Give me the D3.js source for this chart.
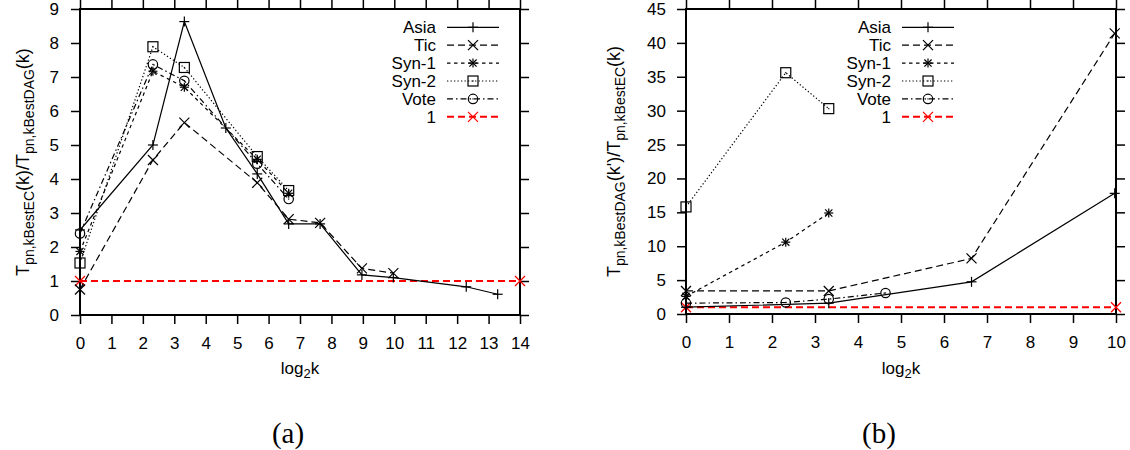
<!DOCTYPE html>
<html>
<head>
<meta charset="utf-8">
<script src="https://cdn.jsdelivr.net/npm/d3@7"></script>
<style>
body { margin: 0; background: #fff; }
svg text { font-family: "Liberation Sans", Arial, sans-serif; fill: #000; }
</style>
</head>
<body>
<svg width="1130" height="450"></svg>
<script>
// ---- panel (a) data, x = log2 k ----
let asiaAx = [0, 2.32, 3.32, 4.64, 5.64, 6.64, 7.64, 8.97, 9.97, 12.29, 13.29]
let asiaAy = [2.5, 5.0, 8.63, 5.5, 4.15, 2.68, 2.68, 1.18, 1.1, 0.83, 0.61]
let ticAx = [0, 2.32, 3.32, 5.64, 6.64, 7.64, 8.97, 9.97]
let ticAy = [0.75, 4.56, 5.66, 3.89, 2.82, 2.71, 1.37, 1.23]
let synAx = [0, 2.32, 3.32, 5.64, 6.64]
let syn1Ay = [1.87, 7.17, 6.7, 4.58, 3.58]
let syn2Ay = [1.53, 7.89, 7.28, 4.66, 3.66]
let voteAy = [2.4, 7.37, 6.89, 4.45, 3.41]
let oneAx = [0, 14]
let oneAy = [1, 1]

// ---- panel (b) data ----
let asiaBx = [0, 3.32, 6.64, 9.97]
let asiaBy = [1.0, 1.6, 4.75, 17.8]
let ticBx = [0, 3.32, 6.64, 9.97]
let ticBy = [3.4, 3.4, 8.2, 41.4]
let synBx = [0, 2.32, 3.32]
let syn1By = [2.6, 10.6, 14.9]
let syn2By = [15.8, 35.6, 30.3]
let voteBx = [0, 2.32, 3.32, 4.64]
let voteBy = [1.6, 1.7, 2.2, 3.1]
let oneBx = [0, 10]
let oneBy = [1, 1]

// ticks
let xTicksA = d3.range(0, 15)
let yTicksA = d3.range(0, 10)
let xTicksB = d3.range(0, 11)
let yTicksB = [0, 5, 10, 15, 20, 25, 30, 35, 40, 45]

let legendNames = ['Asia', 'Tic', 'Syn-1', 'Syn-2', 'Vote', '1']

// line style per series name
const styles = {
  'Asia':  {dash: null, mark: 'plus', color: '#000', width: 1.2},
  'Tic':   {dash: '7,4', mark: 'cross', color: '#000', width: 1.2},
  'Syn-1': {dash: '3.5,3.5', mark: 'star', color: '#000', width: 1.2},
  'Syn-2': {dash: '1.3,2.2', mark: 'square', color: '#000', width: 1.2},
  'Vote':  {dash: '6,3,1.5,3', mark: 'circle', color: '#000', width: 1.2},
  '1':     {dash: '7,4', mark: 'cross', color: '#ff0000', width: 2}
}

let svg = d3.select('svg')

function zip(xs, ys) { return xs.map((v, i) => [v, ys[i]]) }

function marker(g, type, px, py, color) {
  let m = g.append('g').attr('transform', 'translate(' + px + ',' + py + ')')
    .attr('stroke', color).attr('stroke-width', 1.2).attr('fill', 'none')
  let s = 5
  if (type == 'plus' || type == 'star') {
    let r = type == 'star' ? 4.5 : s
    m.append('line').attr('x1', -r).attr('x2', r).attr('y1', 0).attr('y2', 0)
    m.append('line').attr('x1', 0).attr('x2', 0).attr('y1', -r).attr('y2', r)
  }
  if (type == 'cross' || type == 'star') {
    let r = type == 'star' ? 3.6 : s
    m.append('line').attr('x1', -r).attr('x2', r).attr('y1', -r).attr('y2', r)
    m.append('line').attr('x1', -r).attr('x2', r).attr('y1', r).attr('y2', -r)
  }
  if (type == 'square') {
    m.append('rect').attr('x', -s).attr('y', -s).attr('width', 2 * s).attr('height', 2 * s)
    m.append('rect').attr('x', -0.6).attr('y', -0.6).attr('width', 1.2).attr('height', 1.2)
      .attr('fill', color).attr('stroke', 'none')
  }
  if (type == 'circle') {
    m.append('circle').attr('r', 4.7)
    m.append('rect').attr('x', -0.6).attr('y', -0.6).attr('width', 1.2).attr('height', 1.2)
      .attr('fill', color).attr('stroke', 'none')
  }
}

function drawPanel(p) {
  let x = d3.scaleLinear().domain(p.xDomain).range(p.xRange)
  let y = d3.scaleLinear().domain(p.yDomain).range(p.yRange)
  let g = svg.append('g')

  // axes, ticks pointing outward on all four sides
  let fs = '17px'
  g.append('g').attr('transform', 'translate(0,' + p.yRange[0] + ')')
    .call(d3.axisBottom(x).tickValues(p.xTicks).tickSize(9).tickPadding(13).tickSizeOuter(0))
  g.append('g').attr('transform', 'translate(0,' + p.yRange[1] + ')')
    .call(d3.axisTop(x).tickValues(p.xTicks).tickSize(9).tickFormat('').tickSizeOuter(0))
  g.append('g').attr('transform', 'translate(' + p.xRange[0] + ',0)')
    .call(d3.axisLeft(y).tickValues(p.yTicks).tickSize(9).tickPadding(p.yPad).tickSizeOuter(0))
  g.append('g').attr('transform', 'translate(' + p.xRange[1] + ',0)')
    .call(d3.axisRight(y).tickValues(p.yTicks).tickSize(9).tickFormat('').tickSizeOuter(0))
  g.selectAll('.domain').remove()
  g.selectAll('.tick line').attr('stroke', '#000').attr('stroke-width', 1.5)
  g.selectAll('.tick text').attr('font-size', fs)

  g.append('rect')
    .attr('x', p.xRange[0]).attr('y', p.yRange[1])
    .attr('width', p.xRange[1] - p.xRange[0]).attr('height', p.yRange[0] - p.yRange[1])
    .attr('fill', 'none').attr('stroke', '#000').attr('stroke-width', 2)

  let line = d3.line().x(d => x(d[0])).y(d => y(d[1]))

  // draw from back to front
  p.series.slice().reverse().forEach(s => {
    let st = styles[s.name]
    g.append('path')
      .datum(zip(s.x, s.y))
      .attr('d', line)
      .attr('fill', 'none')
      .attr('stroke', st.color)
      .attr('stroke-width', st.width)
      .attr('stroke-dasharray', st.dash)
    s.x.forEach((v, i) => marker(g, st.mark, x(v), y(s.y[i]), st.color))
  })

  // legend
  let lg = g.append('g')
  legendNames.forEach((name, i) => {
    let st = styles[name]
    let ly = 27.3 + i * 17.9
    lg.append('text').attr('x', p.legX).attr('y', ly).attr('dy', '0.35em')
      .attr('text-anchor', 'end').attr('font-size', fs).text(name)
    lg.append('line').attr('x1', p.legX + 11).attr('x2', p.legX + 63)
      .attr('y1', ly).attr('y2', ly)
      .attr('stroke', st.color).attr('stroke-width', st.width)
      .attr('stroke-dasharray', st.dash)
    marker(lg, st.mark, p.legX + 37, ly, st.color)
  })

  // x label: log2k
  let xl = g.append('text')
    .attr('x', (p.xRange[0] + p.xRange[1]) / 2).attr('y', 374)
    .attr('text-anchor', 'middle').attr('font-size', fs)
  xl.append('tspan').text('log')
  xl.append('tspan').attr('font-size', '13px').attr('dy', 4).text('2')
  xl.append('tspan').attr('dy', -4).text('k')

  // y label with subscripts
  let yl = g.append('text')
    .attr('transform', 'translate(' + p.yLabX + ',' + (p.yRange[0] + p.yRange[1]) / 2 + ') rotate(-90)')
    .attr('text-anchor', 'middle').attr('font-size', '18px')
  p.yLabel.forEach(part => {
    if (part.sub) {
      yl.append('tspan').attr('font-size', '14px').attr('dy', 5).text(part.t)
    } else {
      yl.append('tspan').attr('dy', part.first ? 0 : -5).text(part.t)
    }
  })

  // caption
  svg.append('text').attr('x', p.capX).attr('y', 443)
    .attr('text-anchor', 'middle')
    .style('font-family', '"Liberation Serif", "DejaVu Serif", serif')
    .attr('font-size', '29px').text(p.caption)
}

drawPanel({
  xDomain: [0, 14], yDomain: [0, 9],
  xRange: [80, 520], yRange: [315, 9],
  xTicks: xTicksA, yTicks: yTicksA, yPad: 12,
  legX: 436, yLabX: 29, capX: 288, caption: '(a)',
  yLabel: [{t: 'T', first: true}, {t: 'pn,kBestEC', sub: true}, {t: '(k)/T'},
           {t: 'pn,kBestDAG', sub: true}, {t: '(k)'}],
  series: [
    {name: 'Asia', x: asiaAx, y: asiaAy},
    {name: 'Tic', x: ticAx, y: ticAy},
    {name: 'Syn-1', x: synAx, y: syn1Ay},
    {name: 'Syn-2', x: synAx, y: syn2Ay},
    {name: 'Vote', x: synAx, y: voteAy},
    {name: '1', x: oneAx, y: oneAy}
  ]
})

drawPanel({
  xDomain: [0, 10], yDomain: [0, 45],
  xRange: [686, 1116], yRange: [314, 9],
  xTicks: xTicksB, yTicks: yTicksB, yPad: 11,
  legX: 891, yLabX: 620, capX: 879, caption: '(b)',
  yLabel: [{t: 'T', first: true}, {t: 'pn,kBestDAG', sub: true}, {t: "(k')/T"},
           {t: 'pn,kBestEC', sub: true}, {t: '(k)'}],
  series: [
    {name: 'Asia', x: asiaBx, y: asiaBy},
    {name: 'Tic', x: ticBx, y: ticBy},
    {name: 'Syn-1', x: synBx, y: syn1By},
    {name: 'Syn-2', x: synBx, y: syn2By},
    {name: 'Vote', x: voteBx, y: voteBy},
    {name: '1', x: oneBx, y: oneBy}
  ]
})
</script>
</body>
</html>
